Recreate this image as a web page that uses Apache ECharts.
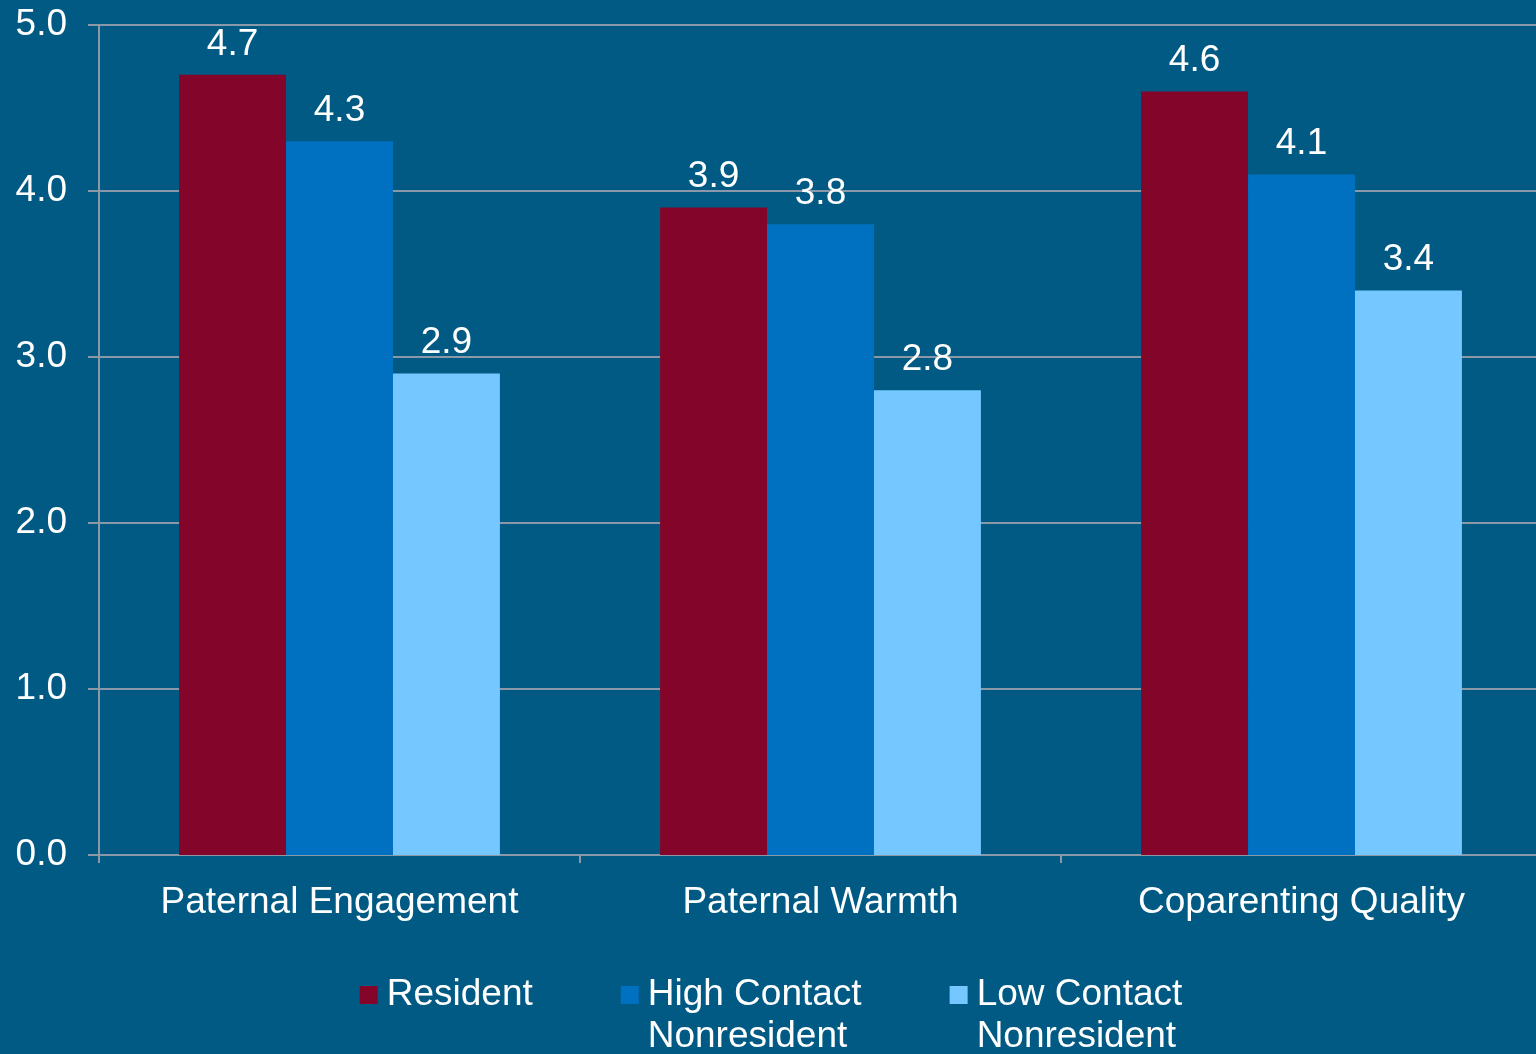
<!DOCTYPE html>
<html>
<head>
<meta charset="utf-8">
<script src="https://cdn.jsdelivr.net/npm/echarts@6/dist/echarts.min.js"></script>
<style>
html,body{margin:0;padding:0;background:#005A84;overflow:hidden;width:1536px;height:1054px;}
#c{width:1542px;height:1054px;}
</style>
</head>
<body>
<div id="c"></div>
<script>
const categories = ['Paternal Engagement', 'Paternal Warmth', 'Coparenting Quality'];
const seriesNames = ['Resident', 'High Contact Nonresident', 'Low Contact Nonresident'];
const resident = [4.7, 3.9, 4.6];
const highContact = [4.3, 3.8, 4.1];
const lowContact = [2.9, 2.8, 3.4];
const yTicks = [0, 1, 2, 3, 4, 5];

const colors = ['#84052A', '#0070C0', '#75C8FF'];
const FONT = '"Liberation Sans", Arial, sans-serif';
const gridColor = '#8A98A8';

const chart = echarts.init(document.getElementById('c'));
const values = [resident, highContact, lowContact];
chart.setOption({
  backgroundColor: '#005A84',
  animation: false,
  textStyle: { fontFamily: FONT },
  grid: { left: 99, right: 0, top: 25, bottom: 199, containLabel: false },
  legend: {
    data: seriesNames,
    left: 'center',
    top: 932,
    padding: 0,
    itemWidth: 18,
    itemHeight: 18,
    itemGap: 88,
    icon: 'rect',
    formatter: function (name) {
      if (name.indexOf(' Nonresident') >= 0) return ' \n' + name.replace(' Nonresident', '\nNonresident');
      return ' \n' + name + '\n ';
    },
    textStyle: {
      color: '#ffffff', fontSize: 37, fontFamily: FONT, lineHeight: 42,
      padding: [0, 0, 0, 4]
    }
  },
  xAxis: {
    type: 'category',
    data: categories,
    axisLine: { show: true, lineStyle: { color: gridColor, width: 2 } },
    axisTick: { show: true, length: 8, lineStyle: { color: gridColor, width: 2 } },
    axisLabel: { color: '#ffffff', fontSize: 37, fontFamily: FONT, margin: 29 }
  },
  yAxis: {
    type: 'value',
    min: yTicks[0],
    max: yTicks[yTicks.length - 1],
    interval: 1,
    axisLine: { show: true, lineStyle: { color: gridColor, width: 2 } },
    axisTick: { show: true, length: 11, lineStyle: { color: gridColor, width: 2 } },
    splitLine: { show: true, lineStyle: { color: gridColor, width: 2 } },
    axisLabel: {
      color: '#ffffff', fontSize: 37, fontFamily: FONT, margin: 32,
      padding: [5, 0, 0, 0],
      formatter: function (v) { return v.toFixed(1); }
    }
  },
  series: seriesNames.map(function (n, i) {
    return {
      name: n,
      type: 'bar',
      data: values[i],
      barGap: '0%',
      barCategoryGap: '33.3%',
      itemStyle: { color: colors[i] },
      label: {
        show: true, position: 'top', distance: 12,
        color: '#ffffff', fontSize: 37, fontFamily: FONT,
        formatter: function (p) { return p.value.toFixed(1); }
      }
    };
  })
});
</script>
</body>
</html>
